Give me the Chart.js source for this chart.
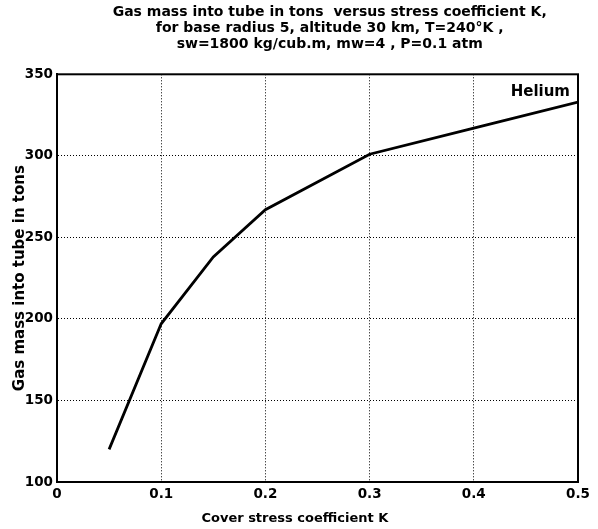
<!DOCTYPE html>
<html>
<head>
<meta charset="utf-8">
<script src="https://cdn.jsdelivr.net/npm/chart.js@4/dist/chart.umd.min.js"></script>
<style>
    html, body { margin: 0; padding: 0; background: #fff; }
    #wrap { width: 598px; height: 529px; }
</style>
</head>
<body>
<div id="wrap"><canvas id="massChart"></canvas></div>
<script>
// values
const stressK = [0.05, 0.1, 0.15, 0.2, 0.3, 0.4, 0.5];
const gasMassTons = [120, 197, 238, 267, 301, 317, 333];
const xTicks = [0, 0.1, 0.2, 0.3, 0.4, 0.5];
const yTicks = [100, 150, 200, 250, 300, 350];
const seriesName = 'Helium';
const titleLines = [
    'Gas mass into tube in tons  versus stress coefficient K,',
    'for base radius 5, altitude 30 km, T=240\u00B0K ,',
    'sw=1800 kg/cub.m, mw=4 , P=0.1 atm'
];

const FONT = '"DejaVu Sans", Arial, sans-serif';

// box round the plot area + series label in the corner
const framePlugin = {
    id: 'frame',
    afterDatasetsDraw(chart) {
        const { ctx, chartArea: a } = chart;
        ctx.save();
        ctx.strokeStyle = '#000';
        ctx.lineWidth = 2;
        ctx.strokeRect(a.left, a.top, a.right - a.left, a.bottom - a.top);
        ctx.fillStyle = '#000';
        ctx.font = 'bold 15px ' + FONT;
        ctx.textAlign = 'right';
        ctx.textBaseline = 'middle';
        ctx.fillText(seriesName, a.right - 8, a.top + 18);
        ctx.restore();
    }
};

new Chart(document.getElementById('massChart'), {
    type: 'line',
    data: {
        datasets: [{
            label: seriesName,
            data: stressK.map((k, i) => ({ x: k, y: gasMassTons[i] })),
            borderColor: '#000',
            borderWidth: 2.8,
            pointRadius: 0,
            tension: 0,
            fill: false
        }]
    },
    options: {
        responsive: true,
        maintainAspectRatio: false,
        animation: false,
        layout: { padding: { top: 0, right: 20, bottom: 0, left: 0 } },
        plugins: {
            legend: { display: false },
            tooltip: { enabled: false },
            title: {
                display: true,
                fullSize: false,
                // leading spaces nudge the block a bit right, like the original
                text: titleLines.map(s => '     ' + s),
                color: '#000',
                font: { family: FONT, size: 14, weight: 'bold', lineHeight: 1.15 },
                padding: { top: 4, bottom: 22 }
            }
        },
        scales: {
            x: {
                type: 'linear',
                min: 0,
                max: 0.5,
                afterBuildTicks: scale => { scale.ticks = xTicks.map(v => ({ value: v })); },
                afterFit: scale => { scale.height = 47; },
                grid: { color: '#000', lineWidth: 1, drawTicks: false },
                border: { display: true, color: '#000', width: 2, dash: [1, 2] },
                ticks: {
                    color: '#000',
                    padding: 4,
                    font: { family: FONT, size: 13.5, weight: 'bold' },
                    callback: v => String(v)
                },
                title: {
                    display: true,
                    // trailing spaces shift the label left of centre
                    text: 'Cover stress coefficient K          ',
                    color: '#000',
                    font: { family: FONT, size: 13, weight: 'bold' },
                    padding: { top: 0, bottom: 3 }
                }
            },
            y: {
                min: 100,
                max: 350,
                afterBuildTicks: scale => { scale.ticks = yTicks.map(v => ({ value: v })); },
                afterFit: scale => { scale.width = 57; },
                grid: { color: '#000', lineWidth: 1, drawTicks: false },
                border: { display: true, color: '#000', width: 2, dash: [1, 2] },
                ticks: {
                    color: '#000',
                    padding: 4,
                    font: { family: FONT, size: 13.5, weight: 'bold' }
                },
                title: {
                    display: true,
                    text: 'Gas mass into tube in tons',
                    color: '#000',
                    font: { family: FONT, size: 15, weight: 'bold' },
                    padding: { top: 11, bottom: 0 }
                }
            }
        }
    },
    plugins: [framePlugin]
});
</script>
</body>
</html>
